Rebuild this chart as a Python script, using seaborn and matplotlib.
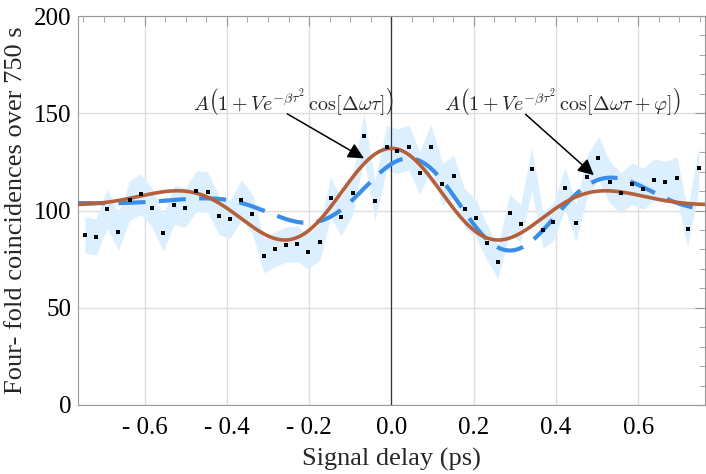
import numpy as np
import matplotlib.pyplot as plt
from matplotlib.ticker import FuncFormatter, MultipleLocator

import seaborn as sns


sns.set_theme(style="white")
plt.rcParams["font.family"] = ["Liberation Serif", "DejaVu Serif"]
plt.rcParams["mathtext.fontset"] = "cm"

# measured four-fold coincidences (counts per 750 s) vs signal delay (ps)
DELAY = [-0.745, -0.718, -0.691, -0.664, -0.636, -0.609, -0.582, -0.555, -0.528, -0.501,
         -0.474, -0.447, -0.419, -0.392, -0.365, -0.338, -0.310, -0.283, -0.256, -0.229,
         -0.203, -0.174, -0.148, -0.122, -0.093, -0.067, -0.040, -0.012, 0.014, 0.042,
         0.069, 0.096, 0.124, 0.151, 0.178, 0.205, 0.233, 0.259, 0.287, 0.314,
         0.341, 0.368, 0.393, 0.422, 0.448, 0.475, 0.503, 0.530, 0.557, 0.585,
         0.612, 0.639, 0.666, 0.694, 0.720, 0.747]
COUNTS = [87.4, 86.4, 101.0, 89.0, 105.2, 108.3, 101.5, 88.5, 102.8, 101.5,
          110.0, 109.5, 97.4, 95.6, 105.4, 98.2, 76.7, 80.1, 82.5, 82.8,
          78.9, 83.7, 106.6, 96.9, 109.0, 138.2, 104.9, 132.4, 130.5, 132.4,
          119.2, 132.9, 113.6, 117.5, 101.0, 96.0, 83.3, 73.4, 98.6, 93.3,
          121.3, 89.8, 94.0, 111.5, 93.6, 117.2, 126.9, 114.8, 109.0, 113.8,
          111.2, 115.8, 114.6, 116.7, 90.7, 122.0]

# fit parameters: solid curve A(1 + V exp(-b t^2) cos(w t))
FIT_A, FIT_V, FIT_B, FIT_W = 104.0, 0.269, 5.2, 11.2
# dashed curve with phase term
PH_A, PH_V, PH_B, PH_C, PH_W, PH_PHI = 104.0, 0.25, 5.5, 0.19, 11.86, -0.36

X_TICKS = [-0.6, -0.4, -0.2, 0.0, 0.2, 0.4, 0.6]
Y_TICKS = [0, 50, 100, 150, 200]


@FuncFormatter
def delay_formatter(x, pos):
    return f"- {abs(x):.1f}" if x < -1e-9 else f"{abs(x):.1f}"


delay = np.array(DELAY)
counts = np.array(COUNTS)
err = np.sqrt(counts)

tau = np.linspace(-0.762, 0.762, 500)
fit_solid = FIT_A * (1 + FIT_V * np.exp(-FIT_B * tau**2) * np.cos(FIT_W * tau))
fit_phase = PH_A * (1 + PH_V * np.exp(-PH_B * (tau - PH_C) ** 2) * np.cos(PH_W * tau + PH_PHI))

fig = plt.figure(figsize=(7.06, 4.74), dpi=100)
ax = fig.add_axes([0.1105, 0.1456, 0.888, 0.8206])

ax.fill_between(delay, counts - err, counts + err, color="#dcefff", lw=0, zorder=1)
ax.axvline(0, color="#333333", lw=0.9, zorder=2)
sns.lineplot(x=tau, y=fit_phase, color="#3b8ee8", lw=3.0, ax=ax, zorder=3,
             dashes=False, linestyle=(0, (6.5, 3.2)))
sns.lineplot(x=tau, y=fit_solid, color="#b5603a", lw=2.6, ax=ax, zorder=4)
sns.scatterplot(x=delay, y=counts, color="black", marker="s", s=9, linewidth=0, ax=ax, zorder=5)

ax.set_xlim(-0.762, 0.762)
ax.set_ylim(0, 200)
ax.set_xticks(X_TICKS)
ax.set_yticks(Y_TICKS)
ax.xaxis.set_major_formatter(delay_formatter)
ax.xaxis.set_minor_locator(MultipleLocator(0.05))
ax.yaxis.set_minor_locator(MultipleLocator(10))
ax.grid(True, which="major", color="#dddddd", lw=1.0)
ax.set_axisbelow(True)
ax.tick_params(which="both", direction="in", top=True, right=True, color="#999999")
ax.tick_params(which="major", length=7, width=0.8, labelsize=18, labelcolor="black")
ax.tick_params(axis="x", which="major", pad=9)
ax.tick_params(axis="y", which="major", pad=5)
ax.tick_params(which="minor", length=4, width=0.6)
for spine in ax.spines.values():
    spine.set_color("#999999")
    spine.set_linewidth(0.8)

ax.set_xlabel("Signal delay (ps)", fontsize=19, labelpad=6)
ax.set_ylabel("Four- fold coincidences over 750 s", fontsize=19, labelpad=5)

arrow = dict(arrowstyle="-|>", color="black", lw=1.1, mutation_scale=24)
ax.text(-0.239, 156, r"$A\left(1+Ve^{-\beta\tau^2}\,\cos[\Delta\omega\tau]\right)$",
        fontsize=14.5, ha="center", va="center")
ax.annotate("", xy=(-0.061, 126.1), xytext=(-0.259, 150.4), arrowprops=arrow)
ax.text(0.415, 156, r"$A\left(1+Ve^{-\beta\tau^2}\,\cos[\Delta\omega\tau+\varphi]\right)$",
        fontsize=14.5, ha="center", va="center")
ax.annotate("", xy=(0.497, 117.2), xytext=(0.321, 150.4), arrowprops=arrow)

fig.savefig("out.png", dpi=100)
